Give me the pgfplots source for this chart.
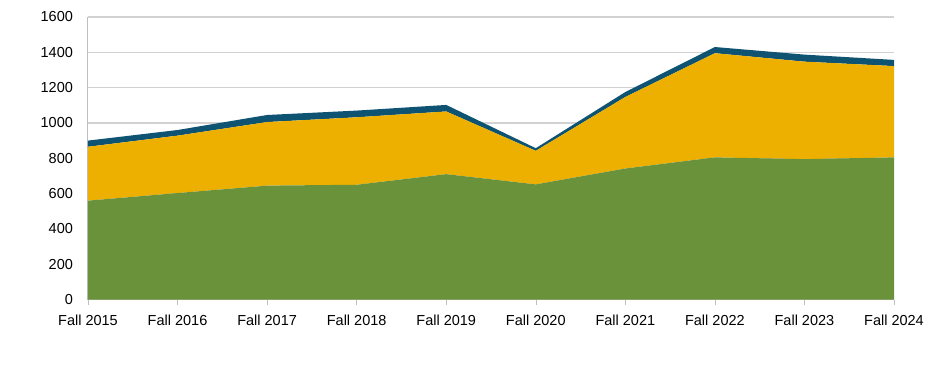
\documentclass[border=0pt]{standalone}
\usepackage{pgfplots}
\pgfplotsset{compat=1.18}
\usepackage{fontspec}
\setmainfont{Liberation Sans}
\definecolor{cgreen}{RGB}{106,146,59}
\definecolor{cgold}{RGB}{238,176,0}
\definecolor{cteal}{RGB}{14,83,114}
\definecolor{cgrid}{RGB}{210,210,210}
\definecolor{caxis}{RGB}{190,190,190}
\begin{document}
\begin{tikzpicture}
\useasboundingbox (0,0) rectangle (470pt,185.5pt);
\begin{axis}[
  at={(44pt,35.75pt)}, anchor=south west,
  scale only axis, width=403pt, height=141.25pt,
  xmin=0, xmax=9, ymin=0, ymax=1600,
  ytick={0,200,...,1600},
  xtick={0,...,9},
  xticklabels={Fall 2015,Fall 2016,Fall 2017,Fall 2018,Fall 2019,Fall 2020,Fall 2021,Fall 2022,Fall 2023,Fall 2024},
  axis lines*=left,
  axis line style={draw=caxis, line width=0.5pt},
  ymajorgrids, grid style={draw=cgrid, line width=0.6pt},
  tick align=outside,
  major tick length=2.5pt,
  xtick style={draw=caxis},
  ytick style={draw=none},
  every tick label/.append style={font=\fontsize{7.25}{8.7}\selectfont, text=black},
  /pgf/number format/assume math mode=true,
  /pgf/number format/1000 sep={},
  yticklabel style={xshift=-1.5pt},
  xticklabel style={yshift=-1.5pt},
  stack plots=y,
  clip=false,
]
\addplot[fill=cgreen, draw=none] coordinates {
 (0,560) (1,603) (2,645) (3,650) (4,710) (5,652) (6,742) (7,805) (8,795) (9,805)
} \closedcycle;
\addplot[fill=cgold, draw=none] coordinates {
 (0,305) (1,325) (2,360) (3,382) (4,355) (5,190) (6,405) (7,590) (8,552) (9,517)
} \closedcycle;
\addplot[fill=cteal, draw=none] coordinates {
 (0,35) (1,32) (2,40) (3,38) (4,37) (5,15) (6,28) (7,35) (8,40) (9,35)
} \closedcycle;
\end{axis}
\end{tikzpicture}
\end{document}
